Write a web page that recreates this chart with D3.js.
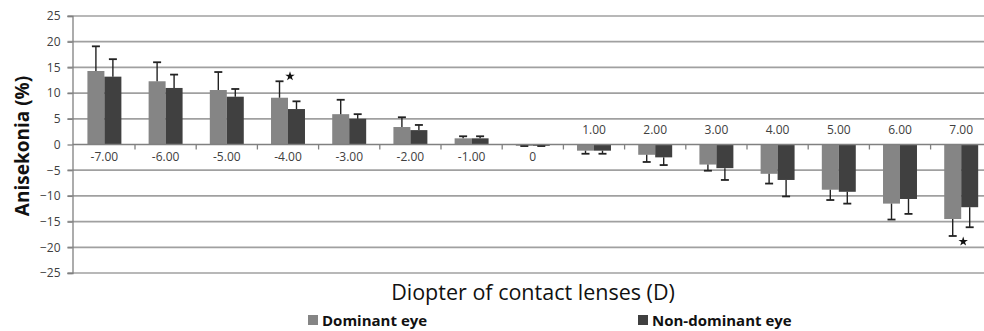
<!DOCTYPE html>
<html><head><meta charset="utf-8">
<script src="https://cdn.jsdelivr.net/npm/d3@7"></script>
<style>body{margin:0;background:#fff;overflow:hidden}svg{display:block}</style>
</head><body>
<svg id="c" width="984" height="331"></svg>
<script>
const categories = ["-7.00","-6.00","-5.00","-4.00","-3.00","-2.00","-1.00","0","1.00","2.00","3.00","4.00","5.00","6.00","7.00"];
const seriesNames = ["Dominant eye","Non-dominant eye"];
const dominant = [14.3,12.3,10.6,9.1,5.9,3.4,1.2,-0.25,-1.2,-2.0,-3.9,-5.7,-8.8,-11.5,-14.5];
const dominantErr = [4.8,3.7,3.5,3.2,2.8,1.9,0.4,0.05,0.6,1.4,1.2,1.9,2.0,3.1,3.3];
const nonDominant = [13.2,11.0,9.3,6.9,5.0,2.8,1.2,-0.25,-1.2,-2.5,-4.6,-6.9,-9.2,-10.6,-12.2];
const nonDominantErr = [3.4,2.6,1.5,1.5,0.9,1.0,0.4,0.05,0.6,1.5,2.3,3.2,2.3,2.9,3.9];
const yTicks = [25,20,15,10,5,0,-5,-10,-15,-20,-25];
const significant = [{cat:"-4.00", side:"top"},{cat:"7.00", side:"bottom"}];
const colors = ["#858585","#404040"];

const svg = d3.select("#c");
const font = "'Open Sans', sans-serif";
const y = d3.scaleLinear().domain([-25,25]).range([273,16]);
const x0 = d3.scaleBand().domain(categories).range([73.8, 73.8+15*61.2]).paddingInner(0.445).paddingOuter(0.2225);
const x1 = d3.scaleBand().domain([0,1]).range([0, x0.bandwidth()]);
const axisX = 72.5;

// gridlines
svg.append("g").selectAll("line").data(yTicks.filter(d=>d!==0)).join("line")
  .attr("x1", axisX-5).attr("x2", 984).attr("y1", d=>y(d)).attr("y2", d=>y(d))
  .attr("stroke","#a0a0a0").attr("stroke-width",1.7);

// y axis
const yAxis = d3.axisLeft(y).tickValues(yTicks).tickSize(5).tickFormat(d3.format("d"));
const gy = svg.append("g").attr("transform",`translate(${axisX},0)`).call(yAxis);
gy.select(".domain").attr("stroke","#808080").attr("stroke-width",1.3);
gy.selectAll(".tick line").attr("stroke","#808080").attr("stroke-width",1.3);
gy.selectAll(".tick text").attr("font-family",font).attr("font-size",12).attr("fill","#404040").attr("x",-12);

// bars
const data = categories.map((c,i)=>({c, vals:[[dominant[i],dominantErr[i]],[nonDominant[i],nonDominantErr[i]]]}));
const g = svg.append("g");
data.forEach(d=>{
  d.vals.forEach((v,s)=>{
    const bx = x0(d.c)+x1(s);
    const w = x1.bandwidth();
    g.append("rect").attr("x",bx).attr("width",w)
      .attr("y",y(Math.max(0,v[0]))).attr("height",Math.abs(y(v[0])-y(0)))
      .attr("fill",colors[s]);
    const end = v[0] >= 0 ? v[0]+v[1] : v[0]-v[1];
    const cx = bx + w/2;
    g.append("line").attr("x1",cx).attr("x2",cx).attr("y1",y(v[0])).attr("y2",y(end)).attr("stroke","#222").attr("stroke-width",1.4);
    g.append("line").attr("x1",cx-4).attr("x2",cx+4).attr("y1",y(end)).attr("y2",y(end)).attr("stroke","#222").attr("stroke-width",1.8);
  });
});

// x axis at zero
const xAxis = d3.axisBottom(x0).tickSize(0).tickSizeOuter(0);
const gx = svg.append("g").attr("transform",`translate(0,${y(0)})`).call(xAxis);
gx.select(".domain").attr("stroke","#808080").attr("stroke-width",1.5).attr("d",`M${axisX},0H984`);
gx.selectAll(".tick text").attr("font-family",font).attr("font-size",12).attr("fill","#404040")
  .attr("y",(d,i)=> i<8 ? 8 : -19).attr("dy","0.71em");
// boundary ticks
const bounds = categories.slice(1).map(c=>x0(c)-x0.step()*x0.paddingInner()/2);
svg.append("g").selectAll("line").data(bounds).join("line")
  .attr("x1",d=>d).attr("x2",d=>d).attr("y1",y(0)).attr("y2",y(0)+5).attr("stroke","#808080").attr("stroke-width",1.3);

// significance stars (placed by the dominant-eye error bar end)
const star = d3.symbol().type(d3.symbolStar).size(28);
significant.forEach(sg=>{
  const i = categories.indexOf(sg.cat);
  const end = dominant[i]>=0 ? dominant[i]+dominantErr[i] : dominant[i]-dominantErr[i];
  const cx = x0(sg.cat) + x0.bandwidth()/2 + 2;
  const cy = sg.side==="top" ? y(end)-5 : y(end)+5.5;
  svg.append("path").attr("d",star()).attr("transform",`translate(${cx},${cy})`).attr("fill","#111");
});

// titles
svg.append("text").attr("transform",`translate(29,146) rotate(-90)`).attr("text-anchor","middle")
  .attr("font-family",font).attr("font-weight","bold").attr("font-size",19).attr("fill","#111").text("Anisekonia (%)");
svg.append("text").attr("x",533).attr("y",300).attr("text-anchor","middle")
  .attr("font-family",font).attr("font-size",21.5).attr("fill","#111").text("Diopter of contact lenses (D)");

// legend
const legX = [308, 638];
seriesNames.forEach((n,s)=>{
  svg.append("rect").attr("x",legX[s]).attr("y",315).attr("width",10).attr("height",10).attr("fill",colors[s]);
  svg.append("text").attr("x",legX[s]+14).attr("y",325.5).attr("font-family",font).attr("font-weight","bold")
    .attr("font-size",15).attr("fill","#111").text(n);
});
</script>
</body></html>
